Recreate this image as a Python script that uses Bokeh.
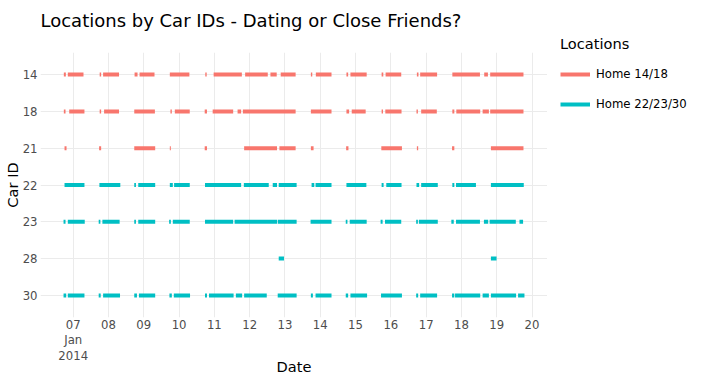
import pandas as pd
from bokeh.plotting import figure
from bokeh.layouts import row, column
from bokeh.models import (FactorRange, Range1d, FixedTicker, Legend, LegendItem,
                          ColumnDataSource, Label)
from bokeh.embed import file_html
from bokeh.resources import INLINE

# ---------------- data (Jan 2014, "DD HH:MM" start/end of stays at home) -------------
car_ids = ["14", "18", "21", "22", "23", "28", "30"]
locations = ["Home 14/18", "Home 22/23/30"]
location_colors = ["#F8766D", "#00BFC4"]
cars_by_location = [["14", "18", "21"], ["22", "23", "28", "30"]]

car14 = [("06 17:38", "06 19:00"), ("06 20:20", "07 07:00"), ("07 18:00", "07 19:00"),
         ("07 20:20", "08 07:10"), ("08 17:44", "08 19:45"), ("08 21:07", "09 07:17"),
         ("09 17:42", "10 07:00"), ("10 17:49", "10 18:46"), ("10 23:30", "11 18:41"),
         ("11 20:55", "12 12:18"), ("12 14:07", "12 18:23"), ("12 21:06", "13 07:15"),
         ("13 17:37", "13 18:34"), ("13 21:00", "14 07:39"), ("14 17:48", "14 18:58"),
         ("14 20:31", "15 07:34"), ("15 17:43", "15 18:52"), ("15 20:26", "16 07:04"),
         ("16 17:42", "16 18:47"), ("16 19:56", "17 07:27"), ("17 17:49", "18 12:35"),
         ("18 15:29", "18 18:00"), ("18 19:33", "19 18:11")]
car18 = [("06 17:38", "06 18:47"), ("06 21:17", "07 07:39"), ("07 18:00", "07 19:00"),
         ("07 21:00", "08 07:10"), ("08 17:31", "09 07:33"), ("09 18:07", "09 19:04"),
         ("09 21:06", "10 07:15"), ("10 17:25", "10 18:58"), ("10 22:50", "11 12:47"),
         ("11 15:46", "11 18:12"), ("11 19:22", "13 07:15"), ("13 17:37", "14 07:39"),
         ("14 17:48", "14 19:38"), ("14 21:24", "15 06:53"), ("15 17:43", "15 18:39"),
         ("15 20:14", "16 07:16"), ("16 17:26", "16 18:23"), ("16 20:37", "17 07:15"),
         ("17 17:49", "17 19:10"), ("17 20:31", "18 12:47"), ("18 14:24", "18 18:40"),
         ("18 19:33", "19 18:11")]
car21 = [("06 18:06", "06 19:28"), ("07 17:37", "07 19:00"), ("08 17:31", "09 07:45"),
         ("09 17:42", "09 18:23"), ("10 17:25", "10 18:58"), ("11 20:14", "12 18:36"),
         ("12 20:13", "13 07:15"), ("13 17:37", "13 19:27"), ("14 17:36", "14 19:10"),
         ("15 17:31", "16 07:32"), ("16 17:42", "16 18:35"), ("17 17:37", "17 19:10"),
         ("18 20:02", "19 18:11")]
car22 = [("06 18:06", "07 07:39"), ("07 17:49", "08 08:02"), ("08 17:31", "08 18:40"),
         ("08 20:14", "09 07:45"), ("09 17:42", "09 19:44"), ("09 20:37", "10 07:15"),
         ("10 17:37", "11 18:12"), ("11 20:02", "12 12:58"), ("12 15:41", "12 18:36"),
         ("12 19:45", "13 07:56"), ("13 18:06", "13 19:56"), ("13 20:48", "14 07:39"),
         ("14 17:48", "15 07:21"), ("15 17:43", "15 19:04"), ("15 20:54", "16 07:16"),
         ("16 17:26", "16 19:15"), ("16 20:37", "17 07:55"), ("17 17:49", "17 19:10"),
         ("17 20:19", "18 09:52"), ("18 20:02", "19 18:23")]
car23 = [("06 17:26", "06 18:47"), ("06 20:20", "07 07:51"), ("07 17:20", "07 18:29"),
         ("07 19:51", "08 07:34"), ("08 17:31", "08 18:40"), ("08 20:14", "09 07:45"),
         ("09 17:14", "09 18:23"), ("09 19:44", "10 07:15"), ("10 17:37", "11 12:47"),
         ("11 13:44", "12 18:36"), ("12 19:04", "13 07:56"), ("13 17:25", "14 07:39"),
         ("14 17:20", "14 18:29"), ("14 20:02", "15 07:34"), ("15 17:02", "15 18:24"),
         ("15 20:01", "16 07:04"), ("16 17:13", "16 18:23"), ("16 19:03", "17 07:55"),
         ("17 17:08", "17 18:46"), ("17 20:19", "18 12:35"), ("18 15:17", "18 18:12"),
         ("18 19:09", "19 12:58"), ("19 15:28", "19 17:55")]
car28 = [("12 19:45", "12 23:20"), ("18 20:02", "18 23:53")]
car30 = [("06 17:26", "06 19:15"), ("06 20:20", "07 07:39"), ("07 17:20", "07 18:42"),
         ("07 20:20", "08 07:50"), ("08 17:31", "08 19:21"), ("08 20:42", "09 07:45"),
         ("09 17:26", "09 19:04"), ("09 20:25", "10 07:27"), ("10 17:37", "10 18:58"),
         ("10 20:20", "11 13:04"), ("11 14:37", "11 18:53"), ("11 20:14", "12 11:37"),
         ("12 19:04", "13 07:56"), ("13 17:37", "13 18:59"), ("13 20:48", "14 07:39"),
         ("14 17:20", "14 18:58"), ("14 20:31", "15 07:50"), ("15 17:19", "16 07:32"),
         ("16 17:13", "16 18:35"), ("16 19:56", "17 07:27"), ("17 17:37", "17 19:10"),
         ("17 19:39", "18 12:47"), ("18 14:24", "18 18:40"), ("18 20:02", "19 13:10"),
         ("19 14:31", "19 18:51")]
segments = {"14": car14, "18": car18, "21": car21, "22": car22,
            "23": car23, "28": car28, "30": car30}

tick_dates = ["2014-01-%02d" % d for d in range(7, 21)]
tick_labels = ["07\nJan\n2014", "08", "09", "10", "11", "12", "13", "14", "15",
               "16", "17", "18", "19", "20"]

title_text = "Locations by Car IDs - Dating or Close Friends?"


def ts(s):
    return pd.Timestamp("2014-01-" + s)


FONT = "DejaVu Sans"
TOP = 52          # height of the title strip
MAIN_W = 547
LEG_W = 157
TOTAL_H = 384

# ---------------- title strip ----------------
tf = figure(width=MAIN_W, height=TOP, x_range=Range1d(0, 100), y_range=Range1d(0, TOP),
            x_axis_type=None, y_axis_type=None, output_backend="svg",
            toolbar_location=None, min_border=0, outline_line_color=None)
tf.xgrid.visible = False
tf.ygrid.visible = False
tf.add_layout(Label(x=0, y=TOP - 20, text=title_text, text_font=FONT,
                    text_font_size="18px", text_color="black",
                    text_baseline="middle", text_align="left"))

# ---------------- main figure ----------------
all_starts = [ts(a) for c in car_ids for a, b in segments[c]]
all_ends = [ts(b) for c in car_ids for a, b in segments[c]]
t0, t1 = min(all_starts), max(all_ends)
pad = (t1 - t0) * 0.05

p = figure(width=MAIN_W, height=TOTAL_H - TOP, x_axis_type="datetime",
           x_range=Range1d(t0 - pad, t1 + pad),
           y_range=FactorRange(factors=list(reversed(car_ids)), range_padding=0.1,
                               range_padding_units="absolute"),
           output_backend="svg", toolbar_location=None,
           min_border_left=0, min_border_right=0, min_border_top=0,
           min_border_bottom=67)

p.outline_line_color = None
p.background_fill_color = "white"

renderers = []
sources = []
for loc, col, cars in zip(locations, location_colors, cars_by_location):
    x0, x1, yy = [], [], []
    for c in cars:
        for a, b in segments[c]:
            x0.append(ts(a))
            x1.append(ts(b))
            yy.append(c)
    src = ColumnDataSource(dict(x0=x0, x1=x1, y=yy))
    sources.append(src)
    r = p.segment(x0="x0", y0="y", x1="x1", y1="y", source=src,
                  line_color=col, line_width=4)
    renderers.append(r)

ticks_ms = [pd.Timestamp(d).value / 1e6 for d in tick_dates]
p.xaxis.ticker = FixedTicker(ticks=ticks_ms)
p.xgrid.ticker = FixedTicker(ticks=ticks_ms)
p.xaxis.major_label_overrides = {t: lab for t, lab in zip(ticks_ms, tick_labels)}

for ax in (p.xaxis, p.yaxis):
    ax.axis_line_color = None
    ax.major_tick_line_color = None
    ax.minor_tick_line_color = None
    ax.major_tick_out = 0
    ax.major_tick_in = 0
    ax.minor_tick_out = 0
    ax.minor_tick_in = 0
    ax.major_label_text_font = FONT
    ax.major_label_text_font_size = "11.7px"
    ax.major_label_text_color = "#4D4D4D"
    ax.axis_label_text_font = FONT
    ax.axis_label_text_font_size = "14.6px"
    ax.axis_label_text_font_style = "normal"
    ax.axis_label_text_color = "black"
    ax.axis_label_text_line_height = 1.0

p.xaxis.major_label_text_line_height = 1.13
p.xaxis.major_label_standoff = 0
p.xaxis.axis_label_standoff = -8
p.yaxis.major_label_standoff = 3
p.yaxis.axis_label_standoff = -1

p.xaxis.axis_label = "Date"
p.yaxis.axis_label = "Car ID"

for g in (p.xgrid, p.ygrid):
    g.grid_line_color = "#EBEBEB"
    g.grid_line_width = 1

# ---------------- legend panel (beside the plot, same data sources) ----------------
lp = figure(width=LEG_W, height=TOTAL_H, x_axis_type=None, y_axis_type=None,
            x_range=Range1d(0, 1), y_range=p.y_range,
            output_backend="svg", toolbar_location=None,
            min_border=0, outline_line_color=None)
lp.xgrid.visible = False
lp.ygrid.visible = False
lp_renderers = [lp.segment(x0="x0", y0="y", x1="x1", y1="y", source=src,
                           line_color=col, line_width=4)
                for src, col in zip(sources, location_colors)]

legend = Legend(items=[LegendItem(label=loc, renderers=[r])
                       for loc, r in zip(locations, lp_renderers)],
                title="Locations", location=(13, 270))
legend.title_text_font = FONT
legend.title_text_font_size = "14.6px"
legend.title_text_font_style = "normal"
legend.title_text_color = "black"
legend.label_text_font = FONT
legend.label_text_font_size = "11.7px"
legend.label_text_color = "black"
legend.glyph_width = 30
legend.glyph_height = 20
legend.label_standoff = 6
legend.spacing = 10
legend.title_standoff = 12
legend.padding = 4
legend.margin = 0
legend.border_line_color = None
legend.background_fill_alpha = 0
lp.add_layout(legend, "center")

layout = row(column(tf, p, spacing=0), lp, spacing=0)
open("out.html", "w").write(file_html(layout, INLINE))
